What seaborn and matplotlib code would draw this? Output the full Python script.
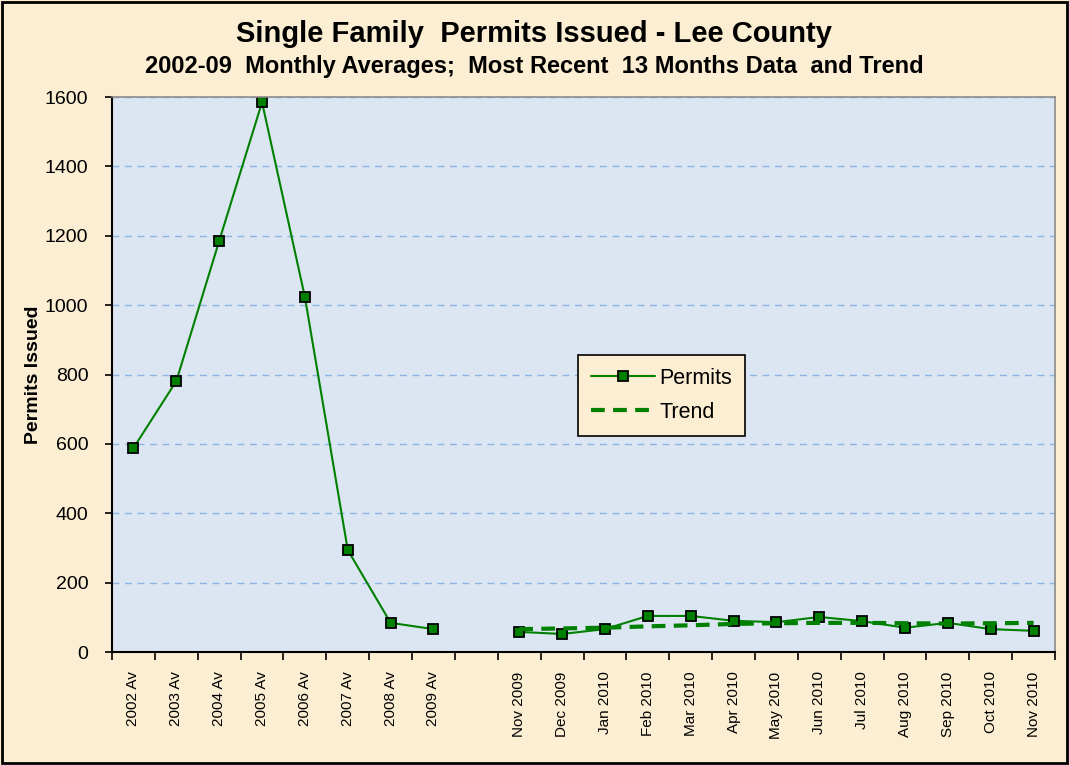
import numpy as np
import pandas as pd
import seaborn as sns
import matplotlib.pyplot as plt
from matplotlib.patches import Rectangle

# categories: yearly averages, one empty slot, then the last 13 months
years = ['2002 Av', '2003 Av', '2004 Av', '2005 Av', '2006 Av', '2007 Av', '2008 Av', '2009 Av']
months = ['Nov 2009', 'Dec 2009', 'Jan 2010', 'Feb 2010', 'Mar 2010', 'Apr 2010', 'May 2010',
          'Jun 2010', 'Jul 2010', 'Aug 2010', 'Sep 2010', 'Oct 2010', 'Nov 2010']
year_permits = [588, 781, 1185, 1585, 1023, 294, 84, 66]
month_permits = [58, 52, 66, 104, 104, 90, 86, 101, 89, 70, 84, 66, 61]
month_trend = [66, 68, 70, 74, 77, 81, 83, 84, 84, 83, 82, 83, 84]

labels = years + [''] + months
df_year = pd.DataFrame({'pos': np.arange(len(years)), 'permits': year_permits})
df_month = pd.DataFrame({'pos': np.arange(len(months)) + len(years) + 1,
                         'permits': month_permits, 'trend': month_trend})

sns.set_style('white')
plt.rcParams['font.family'] = ['Liberation Sans', 'DejaVu Sans']
plt.rcParams['text.color'] = 'black'
plt.rcParams['axes.labelcolor'] = 'black'
plt.rcParams['xtick.color'] = 'black'
plt.rcParams['ytick.color'] = 'black'

green = '#008000'
fig = plt.figure(figsize=(10.69, 7.65), dpi=100, facecolor='#FBEED2')
ax = fig.add_axes([0.1048, 0.1477, 0.8821, 0.7255])
ax.set_facecolor('#DCE6F2')

mk = dict(marker='s', markersize=7, markerfacecolor=green, markeredgecolor='black',
          markeredgewidth=1.3)
sns.lineplot(data=df_year, x='pos', y='permits', ax=ax, color=green, linewidth=1.5, **mk)
sns.lineplot(data=df_month, x='pos', y='permits', ax=ax, color=green, linewidth=1.5,
             label='Permits', **mk)
sns.lineplot(data=df_month, x='pos', y='trend', ax=ax, color=green, linewidth=3,
             linestyle=(0, (3.3, 2)), label='Trend')

ax.set_xlim(-0.5, len(labels) - 0.5)
ax.set_ylim(0, 1600)
ax.set_yticks(range(0, 1601, 200))
ax.tick_params(axis='y', labelsize=14, length=5, width=1.2, direction='out', left=True, pad=12)
ax.set_xticks(np.arange(len(labels) + 1) - 0.5)
ax.set_xticklabels([])
ax.tick_params(axis='x', which='major', length=6, width=1.2, direction='out', bottom=True)
ax.set_xticks(np.arange(len(labels)), minor=True)
ax.set_xticklabels(labels, minor=True, rotation=90, fontsize=11)
ax.tick_params(axis='x', which='minor', length=0, pad=14)
ax.grid(axis='y', color='#8EB4E3', linestyle=(0, (5, 4)), linewidth=1)
ax.set_axisbelow(True)

for s in ['left', 'bottom']:
    ax.spines[s].set_color('black')
    ax.spines[s].set_linewidth(1.5)
for s in ['top', 'right']:
    ax.spines[s].set_color('#8C8C8C')
    ax.spines[s].set_linewidth(1.2)

ax.set_xlabel('')
ax.set_ylabel('Permits Issued', fontsize=14, fontweight='bold', labelpad=2)

leg = ax.legend(loc='upper left', bbox_to_anchor=(0.494, 0.535), borderaxespad=0,
                fontsize=15.5, frameon=True, fancybox=False, handlelength=3.0,
                handletextpad=0.2, borderpad=0.6, labelspacing=0.6)
leg.get_frame().set_facecolor('#FBEED2')
leg.get_frame().set_edgecolor('black')
leg.get_frame().set_alpha(1)
leg.get_frame().set_linewidth(1.2)

fig.text(0.5, 0.956, 'Single Family  Permits Issued - Lee County', ha='center', va='center',
         fontsize=21, fontweight='bold')
fig.text(0.5, 0.913, '2002-09  Monthly Averages;  Most Recent  13 Months Data  and Trend',
         ha='center', va='center', fontsize=17, fontweight='bold')

fig.patches.append(Rectangle((0.002, 0.002), 0.996, 0.995, transform=fig.transFigure,
                             fill=False, edgecolor='black', linewidth=2))

fig.savefig('out.png', dpi=100, facecolor=fig.get_facecolor())
